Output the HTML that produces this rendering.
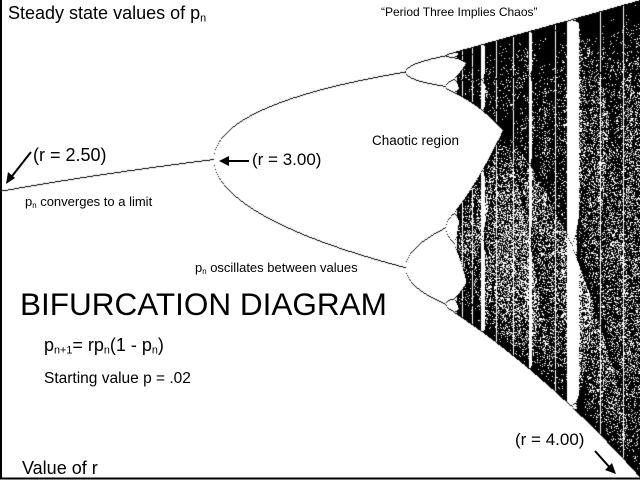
<!DOCTYPE html>
<html><head><meta charset="utf-8"><style>
html,body{margin:0;padding:0;background:#fff}
#w{position:relative;width:640px;height:480px;overflow:hidden;background:#fff;font-family:"Liberation Sans",Arial,sans-serif;color:#000}
canvas{position:absolute;left:0;top:0}
.t{position:absolute;white-space:nowrap;line-height:1}
sub{font-size:60%;vertical-align:-0.25em;line-height:0}
svg{position:absolute;left:0;top:0}
</style></head><body><div id="w">
<canvas id="c" width="640" height="480"></canvas>
<svg width="640" height="480">
<line x1="1" y1="0" x2="1" y2="479" stroke="#000" stroke-width="2"/>
<line x1="0" y1="478.5" x2="640" y2="478.5" stroke="#000" stroke-width="2"/>
<line x1="31" y1="152" x2="9" y2="180" stroke="#000" stroke-width="2"/>
<polygon points="6,184 8,172 15,178" fill="#000"/>
<line x1="249" y1="161" x2="226" y2="161" stroke="#000" stroke-width="2"/>
<polygon points="219,161 229,156 229,166" fill="#000"/>
<line x1="595" y1="451" x2="612" y2="470" stroke="#000" stroke-width="2"/>
<polygon points="616,474 605,470 612,463" fill="#000"/>
</svg>
<div class="t" style="left:8px;top:4px;font-size:18px">Steady state values of p<sub>n</sub></div>
<div class="t" style="left:381px;top:6px;font-size:12px">“Period Three Implies Chaos”</div>
<div class="t" style="left:33px;top:146px;font-size:18px">(r = 2.50)</div>
<div class="t" style="left:252px;top:151px;font-size:17px">(r = 3.00)</div>
<div class="t" style="left:25px;top:195px;font-size:13px">p<sub>n</sub> converges to a limit</div>
<div class="t" style="left:372px;top:134px;font-size:13.5px">Chaotic region</div>
<div class="t" style="left:195px;top:261px;font-size:13px">p<sub>n</sub> oscillates between values</div>
<div class="t" style="left:20px;top:289px;font-size:31.5px">BIFURCATION DIAGRAM</div>
<div class="t" style="left:44px;top:336px;font-size:18px">p<sub>n+1</sub>= rp<sub>n</sub>(1 - p<sub>n</sub>)</div>
<div class="t" style="left:44px;top:371px;font-size:15.5px">Starting value p = .02</div>
<div class="t" style="left:515px;top:431px;font-size:17px">(r = 4.00)</div>
<div class="t" style="left:22px;top:459px;font-size:18px">Value of r</div>
</div>
<script>
var c=document.getElementById('c').getContext('2d');c.fillStyle='#000';
for(var x=2;x<640;x++){var r=2.5+1.5*x/640;var p=0.02;
for(var i=0;i<3000;i++)p=r*p*(1-p);
var n=r>3.56?(r>3.75?850:600):200;
for(var i=0;i<n;i++){p=r*p*(1-p);var y=Math.round(477*(1-p));c.fillRect(x,y,1,1);}}
</script>
</body></html>
